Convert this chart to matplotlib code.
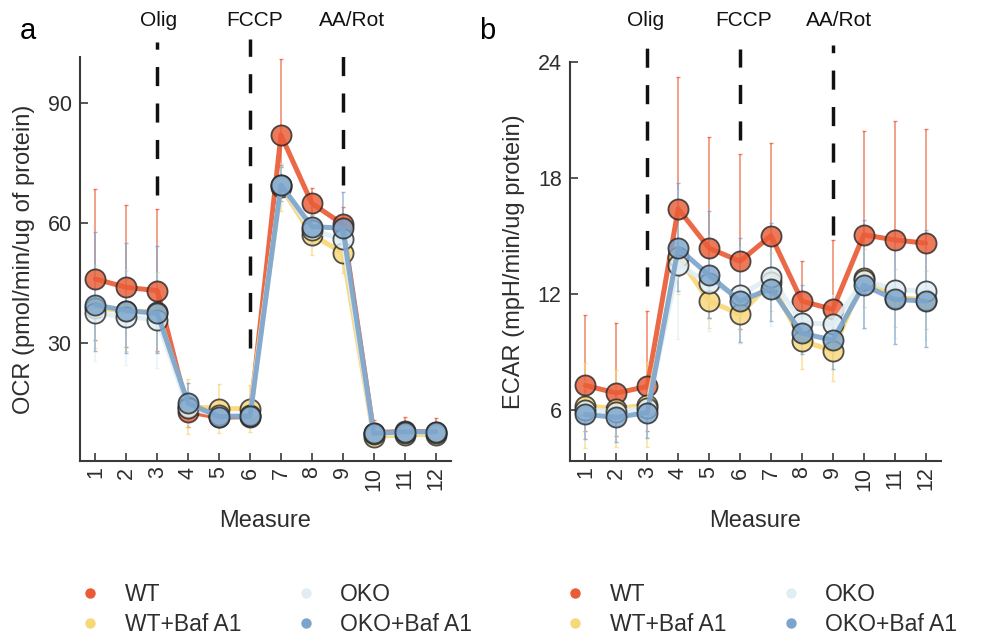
import matplotlib
matplotlib.use("Agg")
import matplotlib.pyplot as plt
from matplotlib.lines import Line2D
from matplotlib.transforms import blended_transform_factory
import numpy as np

plt.rcParams['font.family'] = ['Liberation Sans', 'DejaVu Sans']

# ---------------- data ----------------
measures = [1, 2, 3, 4, 5, 6, 7, 8, 9, 10, 11, 12]
series_names = ["WT", "WT+Baf A1", "OKO", "OKO+Baf A1"]

# OCR (panel a)
wt_ocr = [46.0, 43.9, 43.1, 12.8, 11.4, 11.6, 82.0, 64.9, 59.7, 7.6, 7.9, 7.8]
wtbaf_ocr = [38.8, 38.0, 37.8, 14.1, 13.6, 13.6, 69.0, 57.0, 52.6, 6.6, 7.1, 7.1]
oko_ocr = [37.4, 36.6, 35.8, 13.7, 12.0, 12.0, 69.5, 58.2, 55.9, 7.2, 7.6, 7.6]
okobaf_ocr = [39.5, 38.1, 37.4, 14.9, 11.6, 11.7, 69.5, 59.1, 58.7, 7.4, 7.8, 7.8]

# error bars (lower / upper)
wt_ocr_lo = [15.3, 15.0, 15.0, 3.7, 1.5, 1.8, 8.0, 3.0, 3.0, 1.5, 1.5, 1.5]
wt_ocr_hi = [22.4, 20.6, 20.4, 3.0, 1.5, 1.8, 19.0, 3.8, 4.3, 3.2, 3.6, 3.5]
wtbaf_ocr_err = [10.0, 10.0, 10.0, 6.8, 6.1, 5.9, 6.0, 5.0, 5.0, 1.5, 1.5, 1.5]
oko_ocr_err = [12.0, 12.0, 12.0, 4.0, 3.0, 3.0, 5.0, 4.0, 6.0, 1.5, 1.5, 1.5]
okobaf_ocr_lo = [11.5, 10.5, 10.0, 3.0, 1.5, 1.5, 4.0, 4.0, 5.0, 1.2, 1.2, 1.2]
okobaf_ocr_hi = [18.3, 16.8, 16.9, 5.0, 2.0, 2.0, 5.0, 5.0, 9.0, 1.5, 1.5, 1.5]

# ECAR (panel b)
wt_ecar = [7.25, 6.86, 7.2, 16.4, 14.36, 13.68, 15.01, 11.62, 11.19, 15.05, 14.79, 14.62]
wtbaf_ecar = [6.2, 6.05, 6.25, 13.9, 11.62, 10.94, 12.6, 9.56, 9.05, 12.82, 11.8, 11.7]
oko_ecar = [6.0, 5.9, 6.1, 13.5, 12.56, 11.93, 12.85, 10.5, 10.42, 12.7, 12.22, 12.13]
okobaf_ecar = [5.75, 5.6, 5.85, 14.36, 12.96, 11.62, 12.27, 9.95, 9.6, 12.44, 11.71, 11.62]

wt_ecar_lo = [2.35, 2.2, 2.3, 3.5, 3.6, 3.5, 3.0, 1.5, 1.6, 3.0, 3.0, 3.0]
wt_ecar_hi = [3.65, 3.64, 3.9, 6.8, 5.74, 5.56, 4.8, 2.06, 3.6, 5.4, 6.14, 5.9]
wtbaf_ecar_err = [2.2, 2.0, 2.2, 1.9, 1.4, 1.5, 1.5, 1.46, 1.58, 1.5, 1.5, 1.5]
oko_ecar_err = [1.5, 1.5, 1.5, 3.85, 2.5, 2.5, 2.5, 1.5, 1.5, 2.5, 2.5, 2.5]
okobaf_ecar_lo = [1.25, 1.3, 1.3, 2.2, 2.2, 2.14, 1.67, 1.07, 1.5, 2.2, 2.3, 2.4]
okobaf_ecar_hi = [1.25, 1.3, 1.3, 3.35, 3.3, 3.25, 3.4, 2.5, 2.0, 3.4, 3.6, 3.7]

injections = ["Olig", "FCCP", "AA/Rot"]
injection_x = [3, 6, 9]
ocr_line_lo = [67.0, 28.8, 69.5]
ocr_line_hi = [105.3, 106.0, 105.3]
ecar_line_lo = [12.4, 19.95, 15.05]
ecar_line_hi = [24.9, 24.65, 24.9]

ocr_ticks = [30, 60, 90]
ecar_ticks = [6, 12, 18, 24]

colors = ["#EA5C37", "#F8D67A", "#E0EEF4", "#7DA5CB"]

W, H = 983, 639
fig = plt.figure(figsize=(W / 100, H / 100), dpi=100)
axa = fig.add_axes([80 / W, 1 - 461 / H, 371 / W, (461 - 57) / H])
axb = fig.add_axes([570 / W, 1 - 461 / H, 371 / W, (461 - 62) / H])

spine_col = "#3a3a3a"
text_col = "#2e2e2e"


def draw_panel(ax, vals, errs, ylim, yticks, ylabel, line_lo, line_hi, txt_dx):
    x = np.array(measures)
    for v, (lo, hi), c in zip(vals, errs, colors):
        ax.errorbar(x, v, yerr=[lo, hi], fmt='none', ecolor=c, elinewidth=1.1,
                    capsize=1.5, capthick=1.0, alpha=0.75, zorder=1)
    for v, c in zip(vals, colors):
        ax.plot(x, v, color=c, lw=3.6, alpha=0.92, zorder=2,
                solid_capstyle='round')
        fc = matplotlib.colors.to_rgba(c, 0.82)
        ax.plot(x, v, linestyle='none', marker='o', markersize=14.5,
                markerfacecolor=fc, markeredgecolor=(0.15, 0.15, 0.15, 0.8),
                markeredgewidth=1.3, zorder=2)
    ax.set_xlim(0.5, 12.5)
    ax.set_ylim(*ylim)
    ax.set_xticks(measures)
    ax.set_xticklabels([str(m) for m in measures], rotation=90)
    ax.set_yticks(yticks)
    for s in ["top", "right"]:
        ax.spines[s].set_visible(False)
    for s in ["left", "bottom"]:
        ax.spines[s].set_color(spine_col)
        ax.spines[s].set_linewidth(1.5)
    ax.tick_params(axis='both', direction='in', length=6, width=1.2,
                   colors=spine_col, labelsize=15.5, labelcolor=text_col)
    ax.tick_params(axis='x', pad=4)
    ax.tick_params(axis='y', pad=6)
    ax.set_xlabel("Measure", fontsize=17, color=text_col, labelpad=14)
    ax.set_ylabel(ylabel, fontsize=17, color=text_col, labelpad=9)
    trans = blended_transform_factory(ax.transData, fig.transFigure)
    for name, xi, lo, hi, dx in zip(injections, injection_x, line_lo, line_hi, txt_dx):
        ax.plot([xi, xi], [lo, hi], color="#111111", lw=2.5,
                linestyle=(0, (5.5, 5.0)), clip_on=False, zorder=3)
        ax.text(xi + dx, 1 - 20 / H, name, transform=trans, ha='center',
                va='center', fontsize=15, color="#111111")


draw_panel(axa, [wt_ocr, wtbaf_ocr, oko_ocr, okobaf_ocr],
           [(wt_ocr_lo, wt_ocr_hi), (wtbaf_ocr_err, wtbaf_ocr_err),
            (oko_ocr_err, oko_ocr_err), (okobaf_ocr_lo, okobaf_ocr_hi)],
           (0.5, 101.5), ocr_ticks, "OCR (pmol/min/ug of protein)",
           ocr_line_lo, ocr_line_hi, [0.03, 0.15, 0.3])
draw_panel(axb, [wt_ecar, wtbaf_ecar, oko_ecar, okobaf_ecar],
           [(wt_ecar_lo, wt_ecar_hi), (wtbaf_ecar_err, wtbaf_ecar_err),
            (oko_ecar_err, oko_ecar_err), (okobaf_ecar_lo, okobaf_ecar_hi)],
           (3.34, 24.0), ecar_ticks, "ECAR (mpH/min/ug protein)",
           ecar_line_lo, ecar_line_hi, [-0.05, 0.1, 0.2])

fig.text(28 / W, 1 - 31 / H, "a", fontsize=21, ha='center', va='center', color='black')
fig.text(487 / W, 1 - 31 / H, "b", fontsize=21, ha='center', va='center', color='black')

handles = [Line2D([], [], linestyle='none', marker='o', markersize=7.5,
                  markerfacecolor=c, markeredgecolor='none') for c in colors]

for left_px in (79, 564):
    fig.legend(handles, series_names, loc='upper left',
               bbox_to_anchor=(left_px / W, 1 - 583 / H), ncol=2,
               frameon=False, fontsize=16.5, handlelength=1.0,
               handletextpad=1.0, columnspacing=2.3, labelspacing=0.3,
               borderpad=0, borderaxespad=0, labelcolor=text_col)

fig.savefig("out.png", dpi=100)
